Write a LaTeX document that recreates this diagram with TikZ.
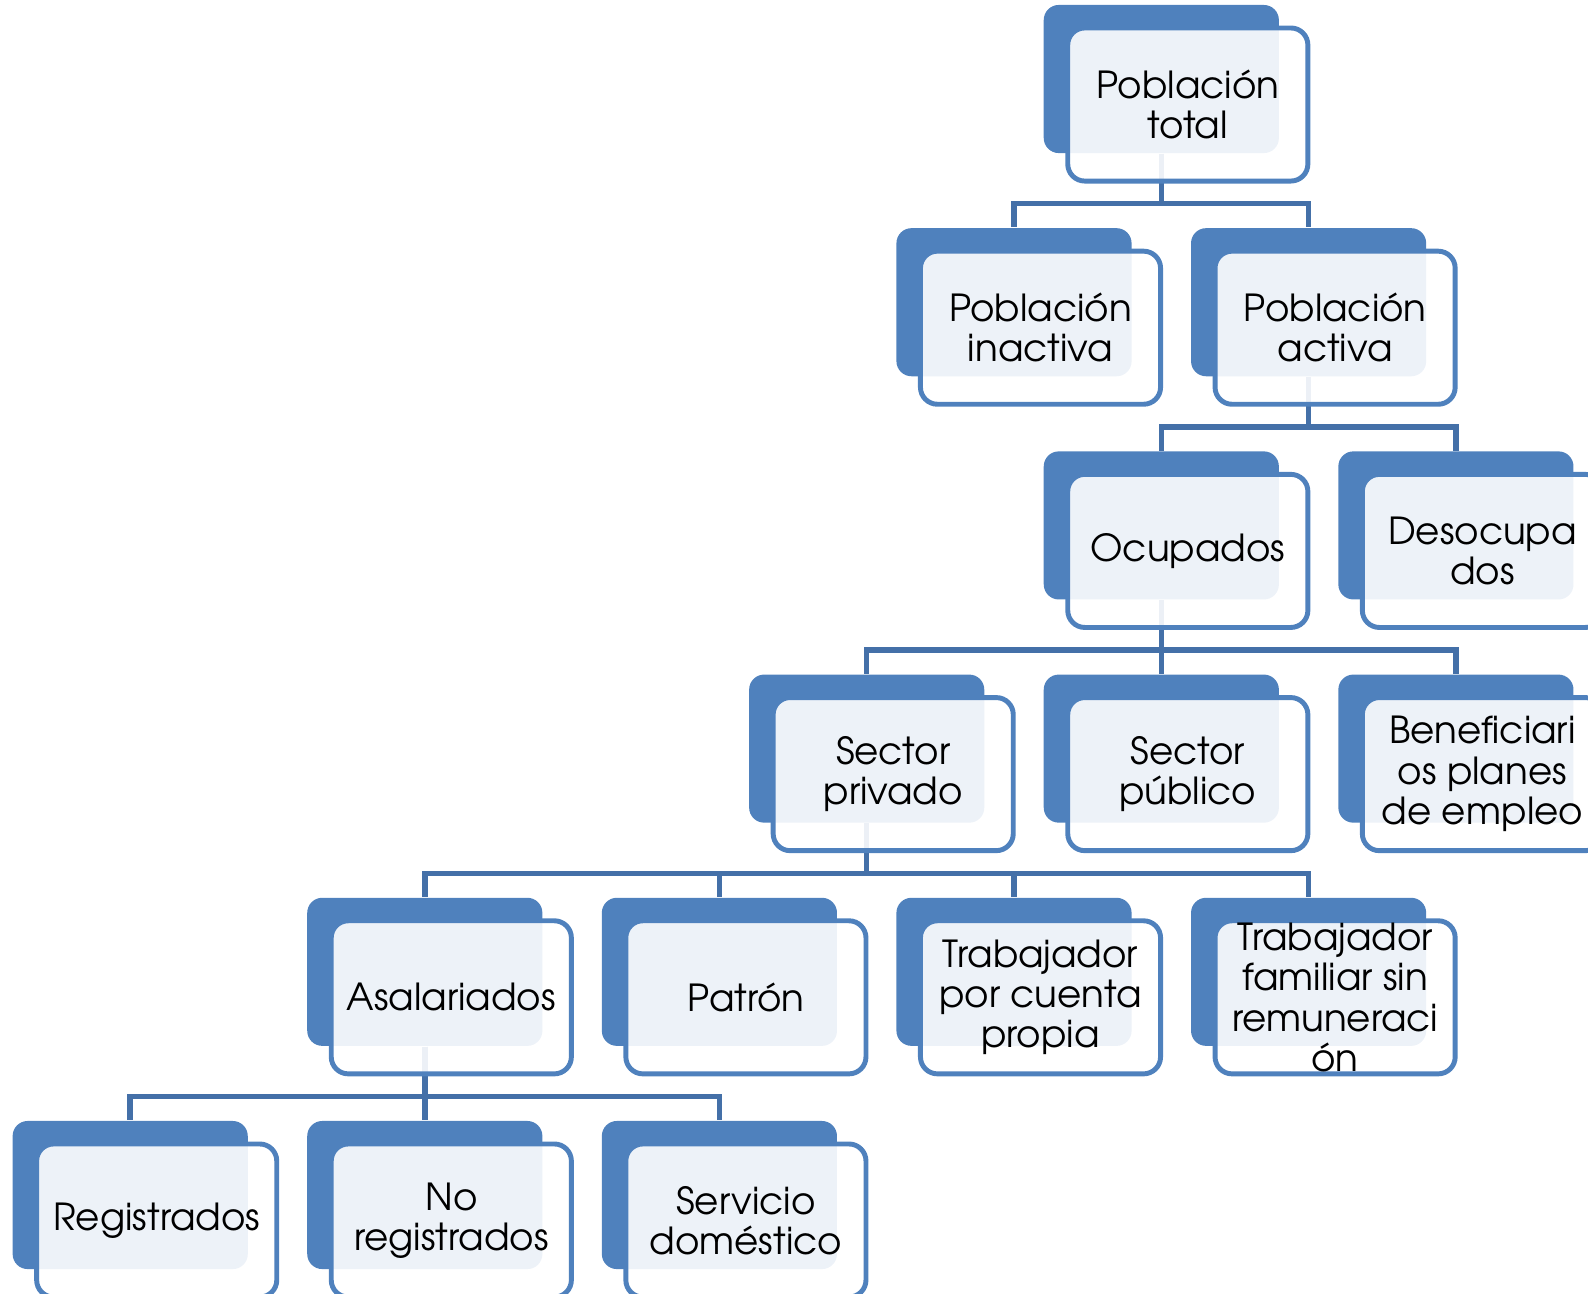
\documentclass[tikz,border=0pt]{standalone}
\usepackage{fontspec}
\setmainfont{TeX Gyre Adventor}
\usetikzlibrary{positioning}

\definecolor{accent}{HTML}{4F81BD}
\definecolor{linkblue}{HTML}{4470A8}

\tikzset{
  backbox/.style={fill=accent, rounded corners=1.5mm, minimum width=2.35cm,
    minimum height=1.48cm, inner sep=0pt},
  frontbox/.style={draw=accent, line width=1.4pt, fill=white, fill opacity=0.9,
    rounded corners=1.7mm, minimum width=2.4cm, minimum height=1.53cm, inner sep=0pt},
  boxtext/.style={align=center, inner sep=0pt, font=\fontsize{10.6}{11.5}\selectfont},
  link/.style={draw=linkblue, line width=1.55pt},
}

% name / column / row / text
\def\boxlist{tot/7/0/{Población\\total}, inac/6/1/{Población\\inactiva},
  act/8/1/{Población\\activa}, ocup/7/2/{Ocupados}, desoc/9/2/{Desocupa\\dos},
  priv/5/3/{Sector\\privado}, pub/7/3/{Sector\\público},
  benef/9/3/{Beneficiari\\os planes\\de empleo}, asal/2/4/{Asalariados},
  patr/4/4/{Patrón}, cprop/6/4/{Trabajador\\por cuenta\\propia},
  fam/8/4/{Trabajador\\familiar sin\\remuneraci\\ón}, reg/0/5/{Registrados},
  noreg/2/5/{No\\registrados}, dom/4/5/{Servicio\\doméstico}}

\begin{document}
\begin{tikzpicture}[x=0.01cm, y=-0.01cm]
			\useasboundingbox (0,0) rectangle (1588,1293);
			\clip (0,0) rectangle (1588,1293);

			% dark back boxes
			\foreach \n/\k/\r/\t in \boxlist {
			\node[backbox] (\n-b) at ({130.2+147.3*\k}, {79+223.2*\r}) {}; }

			% connectors
			\foreach \p/\c in {tot/inac, tot/act, act/ocup, act/desoc, ocup/priv,
			  ocup/pub, ocup/benef, priv/asal, priv/patr, priv/cprop, priv/fam,
			  asal/reg, asal/noreg, asal/dom} {
			\draw[link] (\p-b.south) -- ++(0,50) -| (\c-b.north); }

			% light front boxes with the text
			\foreach \n/\k/\r/\t in \boxlist {
			\node[frontbox] (\n) at ([shift={(26.5,25.5)}]\n-b.center) {};
			\node[boxtext] (\n-t) at (\n) {\t}; }
		\end{tikzpicture}
\end{document}
